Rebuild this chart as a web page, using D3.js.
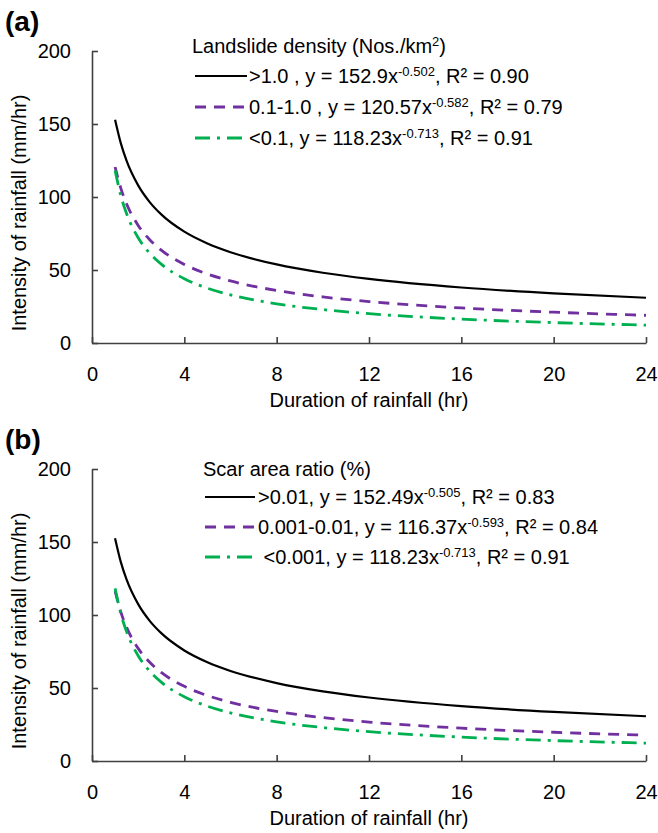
<!DOCTYPE html>
<html>
<head>
<meta charset="utf-8">
<script src="https://cdn.jsdelivr.net/npm/d3@7"></script>
<style>
  html, body { margin: 0; padding: 0; background: #ffffff; }
  svg { display: block; }
</style>
</head>
<body>
<svg id="chart" width="658" height="833"></svg>
<script>
// ---------------- DATA ----------------
const durationHr = [1, 1.25, 1.5, 2, 2.5, 3, 4, 5, 6, 8, 10, 12, 16, 20, 24];

// Panel (a): landslide density classes
const densityHigh = [152.9, 136.70, 124.74, 107.97, 96.53, 88.08, 76.24, 68.16, 62.20, 53.83, 48.13, 43.92, 38.01, 33.99, 31.01];
const densityMid  = [120.57, 105.89, 95.23, 80.55, 70.74, 63.61, 53.81, 47.25, 42.50, 35.95, 31.57, 28.39, 24.01, 21.09, 18.97];
const densityLow  = [118.23, 100.84, 88.55, 72.13, 61.52, 54.02, 44.00, 37.53, 32.95, 26.84, 22.89, 20.10, 16.38, 13.97, 12.26];

// Panel (b): scar area ratio classes
const scarHigh = [152.49, 136.24, 124.25, 107.45, 96.00, 87.56, 75.72, 67.65, 61.70, 53.36, 47.67, 43.48, 37.60, 33.59, 30.64];
const scarMid  = [116.37, 101.95, 91.50, 77.15, 67.59, 60.66, 51.15, 44.81, 40.22, 33.91, 29.71, 26.66, 22.48, 19.69, 17.68];
const scarLow  = [118.23, 100.84, 88.55, 72.13, 61.52, 54.02, 44.00, 37.53, 32.95, 26.84, 22.89, 20.10, 16.38, 13.97, 12.26];

const densityClasses = [">1.0 ,", "0.1-1.0 ,", "<0.1,"];
const densityCoef    = ["152.9", "120.57", "118.23"];
const densityExp     = ["-0.502", "-0.582", "-0.713"];
const densityR2      = ["0.90", "0.79", "0.91"];

const scarClasses = [">0.01,", "0.001-0.01,", "\u00A0<0.001,"];
const scarCoef    = ["152.49", "116.37", "118.23"];
const scarExp     = ["-0.505", "-0.593", "-0.713"];
const scarR2      = ["0.83", "0.84", "0.91"];

const xTicks = [0, 4, 8, 12, 16, 20, 24];
const yTicks = [0, 50, 100, 150, 200];

const xTitle = "Duration of rainfall (hr)";
const yTitle = "Intensity of rainfall (mm/hr)";

// ---------------- STYLE ----------------
const FONT = "'Liberation Sans', Arial, Helvetica, sans-serif";
const AXIS_COLOR = "#404040";
const seriesStyles = [
  { color: "#000000", width: 2.2, dash: null },
  { color: "#7030A0", width: 2.8, dash: "11,8" },
  { color: "#00B050", width: 2.8, dash: "15,7,3,7" }
];

const svg = d3.select("#chart");

function drawPanel(cfg) {
  const g = svg.append("g").attr("transform", `translate(0,${cfg.offsetY})`);
  const x = d3.scaleLinear().domain([0, 24]).range([92, 646]);
  const y = d3.scaleLinear().domain([0, 200]).range([343, 51]);

  // panel label
  g.append("text")
    .attr("x", 5).attr("y", 31)
    .attr("font-family", FONT).attr("font-weight", "bold").attr("font-size", 28)
    .text(cfg.label);

  // axes
  const yAxis = d3.axisLeft(y).tickValues(yTicks).tickSizeInner(-6).tickSizeOuter(0).tickPadding(21);
  const xAxis = d3.axisBottom(x).tickValues(xTicks).tickSizeInner(-6).tickSizeOuter(0).tickPadding(24);

  const gy = g.append("g").attr("transform", "translate(92,0)").call(yAxis);
  const gx = g.append("g").attr("transform", "translate(0,343)").call(xAxis);
  [gx, gy].forEach(a => {
    a.select(".domain").attr("stroke", AXIS_COLOR).attr("stroke-width", 1.6);
    a.selectAll(".tick line").attr("stroke", AXIS_COLOR).attr("stroke-width", 1.6);
    a.selectAll(".tick text").attr("fill", "#000").attr("font-family", FONT).attr("font-size", 20);
  });

  // axis titles
  g.append("text")
    .attr("x", 369).attr("y", 407)
    .attr("text-anchor", "middle")
    .attr("font-family", FONT).attr("font-size", 20)
    .text(xTitle);
  g.append("text")
    .attr("transform", "translate(26,213) rotate(-90)")
    .attr("text-anchor", "middle")
    .attr("font-family", FONT).attr("font-size", 20)
    .text(yTitle);

  // curves
  const line = d3.line()
    .x(d => x(d[0]))
    .y(d => y(d[1]))
    .curve(d3.curveMonotoneX);

  cfg.series.forEach((vals, i) => {
    const st = seriesStyles[i];
    g.append("path")
      .datum(durationHr.map((t, k) => [t, vals[k]]))
      .attr("fill", "none")
      .attr("stroke", st.color)
      .attr("stroke-width", st.width)
      .attr("stroke-dasharray", st.dash)
      .attr("d", line);
  });

  // legend
  const lg = cfg.legend;
  const title = g.append("text")
    .attr("x", lg.titleX).attr("y", lg.titleY)
    .attr("font-family", FONT).attr("font-size", 20);
  title.append("tspan").text(lg.titleMain);
  if (lg.titleSup) {
    title.append("tspan").attr("font-size", 13).attr("dy", -7).text(lg.titleSup);
    title.append("tspan").attr("font-size", 20).attr("dy", 7).text(lg.titleEnd);
  }

  lg.rows.forEach((ry, i) => {
    const st = seriesStyles[i];
    g.append("line")
      .attr("x1", lg.lineX1).attr("x2", lg.lineX2)
      .attr("y1", ry).attr("y2", ry)
      .attr("stroke", st.color)
      .attr("stroke-width", st.width)
      .attr("stroke-dasharray", st.dash);
    const t = g.append("text")
      .attr("x", lg.textX).attr("y", ry + 6.5)
      .attr("font-family", FONT).attr("font-size", 20)
      .attr("xml:space", "preserve");
    t.append("tspan").text(`${cfg.classes[i]} y = ${cfg.coef[i]}x`);
    t.append("tspan").attr("font-size", 13).attr("dy", -7).text(cfg.exps[i]);
    t.append("tspan").attr("font-size", 20).attr("dy", 7).text(`, R\u00B2 = ${cfg.r2[i]}`);
  });
}

drawPanel({
  offsetY: 0,
  label: "(a)",
  series: [densityHigh, densityMid, densityLow],
  classes: densityClasses, coef: densityCoef, exps: densityExp, r2: densityR2,
  legend: {
    titleX: 192, titleY: 53,
    titleMain: "Landslide density (Nos./km", titleSup: "2", titleEnd: ")",
    rows: [76, 107, 138],
    lineX1: 195, lineX2: 247, textX: 249
  }
});

drawPanel({
  offsetY: 418,
  label: "(b)",
  series: [scarHigh, scarMid, scarLow],
  classes: scarClasses, coef: scarCoef, exps: scarExp, r2: scarR2,
  legend: {
    titleX: 203, titleY: 476 - 418,
    titleMain: "Scar area ratio (%)", titleSup: null, titleEnd: null,
    rows: [497 - 418, 527 - 418, 557 - 418],
    lineX1: 205, lineX2: 255, textX: 258
  }
});
</script>
</body>
</html>
